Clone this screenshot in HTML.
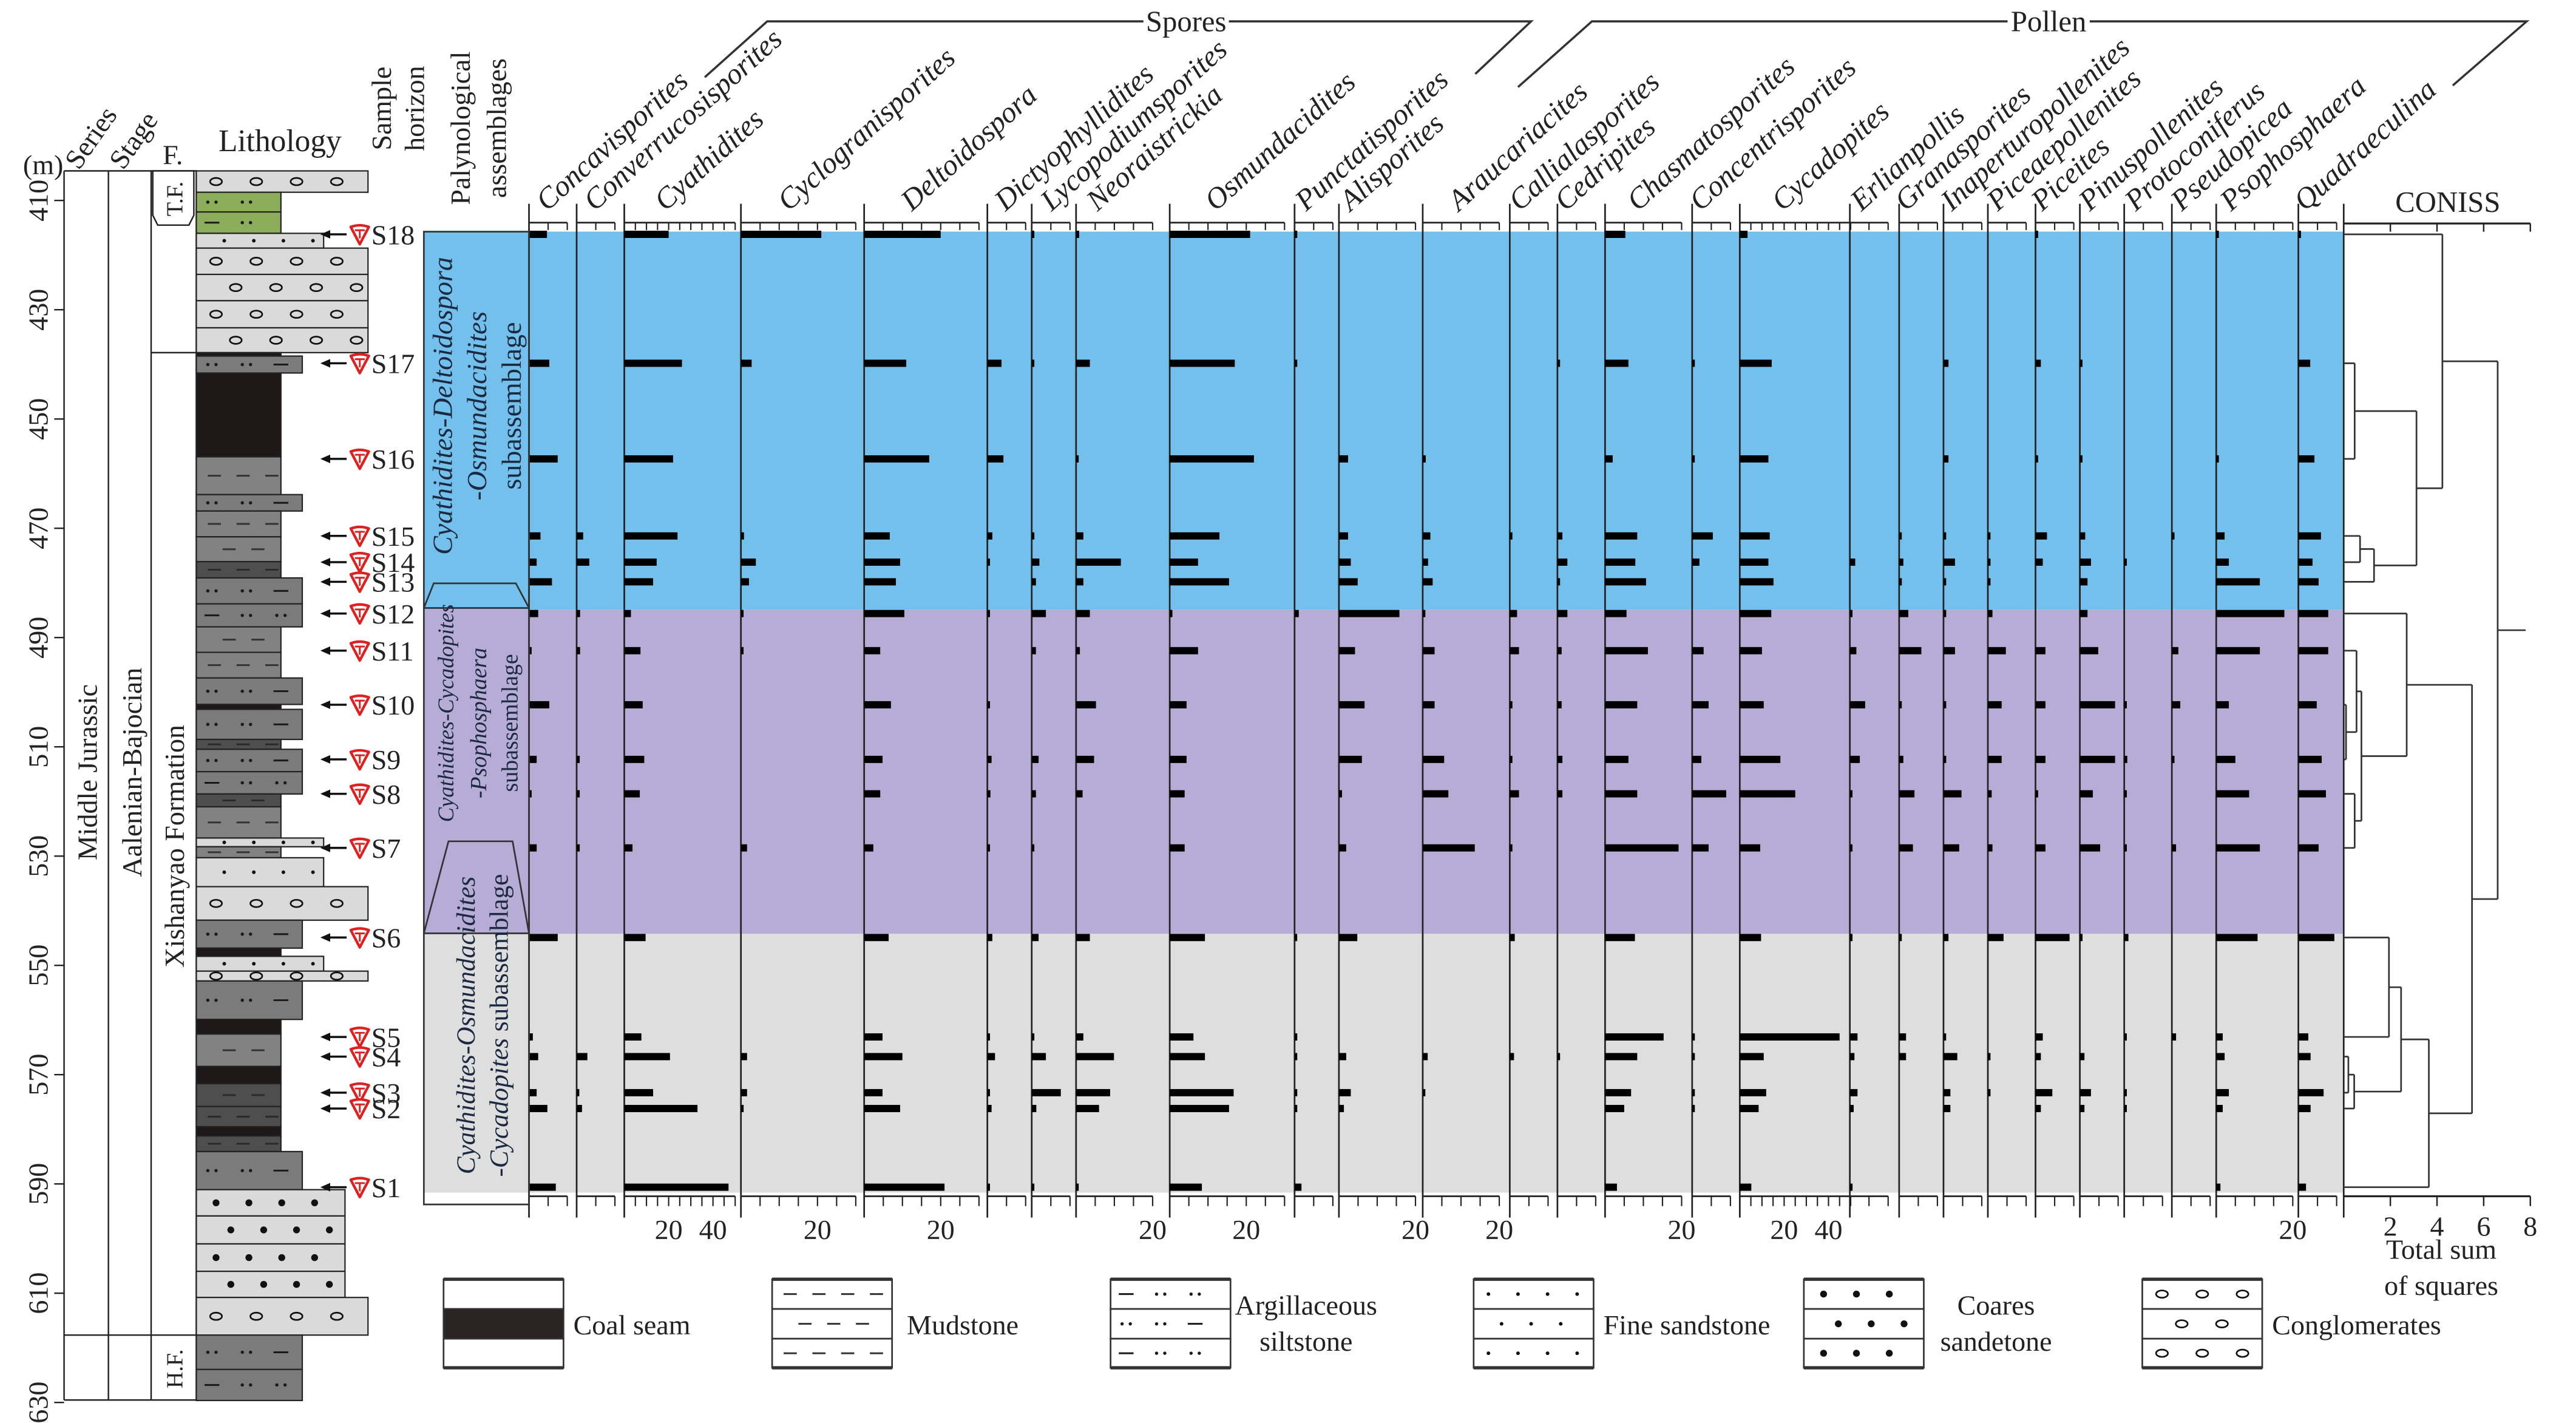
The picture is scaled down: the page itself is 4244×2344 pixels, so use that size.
<!DOCTYPE html>
<html><head><meta charset="utf-8"><title>Palynological diagram</title>
<style>
html,body{margin:0;padding:0;background:#fff;}
svg{display:block;font-family:"Liberation Serif",serif;}
.hd{font-style:italic;font-size:18px;fill:#222;}
.lb{font-size:17px;fill:#222;}
</style></head>
<body>
<svg id="chart" xmlns="http://www.w3.org/2000/svg" width="4244" height="2344" viewBox="0 0 1568 866" preserveAspectRatio="none">
<rect x="0" y="0" width="1568" height="866" fill="#fff"/>
<g id="zones"></g>
<g id="litho"></g>
<g id="cols"></g>
<g id="bars"></g>
<g id="coniss"></g>
<g id="samples"></g>
<g id="legend"></g>

<text x="14" y="106" class="lb">(m)</text>
<text transform="translate(48,104) rotate(-55)" class="lb">Series</text>
<text transform="translate(75,104) rotate(-55)" class="lb">Stage</text>
<text x="99" y="100" class="lb">F.</text>
<text x="133" y="92" class="lb" style="font-size:19px">Lithology</text>
<text transform="translate(238,66) rotate(-90)" class="lb" text-anchor="middle">Sample</text>
<text transform="translate(258,66) rotate(-90)" class="lb" text-anchor="middle">horizon</text>
<text transform="translate(286,78) rotate(-90)" class="lb" text-anchor="middle">Palynological</text>
<text transform="translate(308,78) rotate(-90)" class="lb" text-anchor="middle">assemblages</text>
<text transform="translate(59,470) rotate(-90)" class="lb" text-anchor="middle">Middle Jurassic</text>
<text transform="translate(86,470) rotate(-90)" class="lb" text-anchor="middle">Aalenian-Bajocian</text>
<text transform="translate(112,515) rotate(-90)" class="lb" text-anchor="middle">Xishanyao Formation</text>
<text transform="translate(111,121) rotate(-90)" class="lb" style="font-size:14px" text-anchor="middle">T.F.</text>
<text transform="translate(111,833) rotate(-90)" class="lb" style="font-size:14px" text-anchor="middle">H.F.</text>

<polygon points="258,141 322,141 322,370 258,370" fill="none" stroke="#333" stroke-width="1"/>
<polygon points="258,370 264,355 314,355 322,370 322,568 258,568" fill="none" stroke="#333" stroke-width="1"/>
<polygon points="258,568 273,512 312,512 322,568 322,733 258,733" fill="none" stroke="#333" stroke-width="1"/>
<g fill="#1b2a40">
<text transform="translate(275,247) rotate(-90)" text-anchor="middle" style="font-style:italic;font-size:17px">Cyathidites-Deltoidospora</text>
<text transform="translate(296,247) rotate(-90)" text-anchor="middle" style="font-style:italic;font-size:17px">-Osmundacidites</text>
<text transform="translate(317,247) rotate(-90)" text-anchor="middle" style="font-size:17px">subassemblage</text>
<text transform="translate(276,434) rotate(-90)" text-anchor="middle" style="font-style:italic;font-size:13.5px">Cyathidites-Cycadopites</text>
<text transform="translate(296,440) rotate(-90)" text-anchor="middle" style="font-style:italic;font-size:14px">-Psophosphaera</text>
<text transform="translate(315,440) rotate(-90)" text-anchor="middle" style="font-size:14px">subassemblage</text>
<text transform="translate(289,624) rotate(-90)" text-anchor="middle" style="font-style:italic;font-size:16px">Cyathidites-Osmundacidites</text>
<text transform="translate(309,624) rotate(-90)" text-anchor="middle" style="font-size:16px"><tspan font-style="italic">-Cycadopites</tspan> subassemblage</text>
</g>

<g>
<text class="hd" transform="translate(333,129) rotate(-42)">Concavisporites</text>
<text class="hd" transform="translate(362,129) rotate(-42)">Converrucosisporites</text>
<text class="hd" transform="translate(405,129) rotate(-42)">Cyathidites</text>
<text class="hd" transform="translate(480,129) rotate(-42)">Cyclogranisporites</text>
<text class="hd" transform="translate(555,129) rotate(-42)">Deltoidospora</text>
<text class="hd" transform="translate(612,129) rotate(-42)">Dictyophyllidites</text>
<text class="hd" transform="translate(640,129) rotate(-42)">Lycopodiumsporites</text>
<text class="hd" transform="translate(668,129) rotate(-42)">Neoraistrickia</text>
<text class="hd" transform="translate(740,129) rotate(-42)">Osmundacidites</text>
<text class="hd" transform="translate(795,129) rotate(-42)">Punctatisporites</text>
<text class="hd" transform="translate(822,129) rotate(-42)">Alisporites</text>
<text class="hd" transform="translate(888,129) rotate(-42)">Araucariacites</text>
<text class="hd" transform="translate(925,129) rotate(-42)">Callialasporites</text>
<text class="hd" transform="translate(953,129) rotate(-42)">Cedripites</text>
<text class="hd" transform="translate(997,129) rotate(-42)">Chasmatosporites</text>
<text class="hd" transform="translate(1035,129) rotate(-42)">Concentrisporites</text>
<text class="hd" transform="translate(1085,129) rotate(-42)">Cycadopites</text>
<text class="hd" transform="translate(1133,129) rotate(-42)">Erlianpollis</text>
<text class="hd" transform="translate(1160,129) rotate(-42)">Granasporites</text>
<text class="hd" transform="translate(1188,129) rotate(-42)">Inaperturopollenites</text>
<text class="hd" transform="translate(1216,129) rotate(-42)">Piceaepollenites</text>
<text class="hd" transform="translate(1243,129) rotate(-42)">Piceites</text>
<text class="hd" transform="translate(1272,129) rotate(-42)">Pinuspollenites</text>
<text class="hd" transform="translate(1300,129) rotate(-42)">Protoconiferus</text>
<text class="hd" transform="translate(1328,129) rotate(-42)">Pseudopicea</text>
<text class="hd" transform="translate(1358,129) rotate(-42)">Psophosphaera</text>
<text class="hd" transform="translate(1403,129) rotate(-42)">Quadraeculina</text>
</g>

<polyline points="429,47 467,13 696,13" fill="none" stroke="#333" stroke-width="1.3"/>
<polyline points="748,13 932,13 898,45" fill="none" stroke="#333" stroke-width="1.3"/>
<text x="722" y="19" text-anchor="middle" class="lb" style="font-size:18px">Spores</text>
<polyline points="924,53 969,13 1222,13" fill="none" stroke="#333" stroke-width="1.3"/>
<polyline points="1272,13 1538,13 1493,52" fill="none" stroke="#333" stroke-width="1.3"/>
<text x="1247" y="19" text-anchor="middle" class="lb" style="font-size:18px">Pollen</text>
<text x="1490" y="129" text-anchor="middle" class="lb" style="font-size:18px">CONISS</text>
<text x="1486" y="766" text-anchor="middle" class="lb">Total sum</text>
<text x="1486" y="788" text-anchor="middle" class="lb">of squares</text>

<text x="349" y="812" class="lb">Coal seam</text>
<text x="552" y="812" class="lb">Mudstone</text>
<text x="795" y="800" text-anchor="middle" class="lb">Argillaceous</text>
<text x="795" y="822" text-anchor="middle" class="lb">siltstone</text>
<text x="976" y="812" class="lb">Fine sandstone</text>
<text x="1215" y="800" text-anchor="middle" class="lb">Coares</text>
<text x="1215" y="822" text-anchor="middle" class="lb">sandetone</text>
<text x="1383" y="812" class="lb">Conglomerates</text>
</svg>

<script>
// ---- data ----
const sampleNames = ["S18","S17","S16","S15","S14","S13","S12","S11","S10","S9","S8","S7","S6","S5","S4","S3","S2","S1"];
const sampleDepths = [416.2,439.8,457.3,471.4,476.2,479.8,485.6,492.4,502.3,512.3,518.6,528.5,544.9,563.1,566.7,573.3,576.2,590.6];
const depthTicks = [410,430,450,470,490,510,530,550,570,590,610,630];
const zoneTops = [415.7,484.9,544.2];
const zoneBottoms = [484.9,544.2,591.6];
const axisTickLabels = ["20","40"];
const conissTicks = [2,4,6,8];

const vConcavisporites = [4.7,5.3,7.5,3,2,6,2.4,0.5,5.3,2,0.5,2,7.5,1,2.4,2,4.8,7];
const vConverrucosisporites = [0,0,0,1.7,3.3,0,0.9,0.9,0,0.8,0.8,0.8,0,0,2.8,0.5,1.4,0];
const vCyathidites = [20,26,22,24,14.6,13,3,7.3,8.3,9,7,3.7,9.6,7.7,20.6,13,33,47];
const vCyclogranisporites = [21,2.8,0,0.8,3.9,2.1,0.6,0.6,0,0,0,1.6,0,0,1.6,1.6,0.7,0];
const vDeltoidospora = [20,11,17,6.7,9.4,8.3,10.5,4.2,7,4.8,4.2,2.4,6.4,4.8,10,4.8,9.4,21];
const vDictyophyllidites = [0,3.7,4.2,1.3,0.5,0,0.5,0,0.5,1.1,0.8,0.5,1.3,0.5,2,0.5,1.1,0.5];
const vLycopodiumsporites = [0.4,0.4,0,0.4,2,1.1,3.7,1.1,0,1.8,1.1,0.4,1.8,0.4,3.7,7.6,1.2,0.4];
const vNeoraistrickia = [0.8,3.6,0.6,1.9,11.7,1.9,3.6,1,5.2,4.7,1.7,0,3.6,1.9,9.9,8.9,6,0.3];
const vOsmundacidites = [21,17,22,13,7.4,15.5,0.7,7.4,4.4,4.4,3.9,3.9,9.2,6.2,9.2,16.7,15.5,8.4];
const vPunctatisporites = [0.7,0.7,0,0,0,0,1.1,0,0,0,0,0,0.5,0.7,0.7,0.7,0.7,1.8];
const vAlisporites = [0,0,2.4,2.4,3.1,4.9,15.8,4.2,6.7,6,0.8,1.9,4.8,0,1.9,3.1,1.3,0];
const vAraucariacites = [0,0,0.8,2,1.4,2.6,0.6,3.1,3.1,5.6,6.7,13.6,0,0,1.3,0.6,0,0];
const vCallialasporites = [0,0,0,0.4,0,0,1.9,2.4,0.4,0.4,2.4,0.4,1.3,0,1.1,0,0,0];
const vCedripites = [0,0.4,0,1.3,2.6,0.2,2.6,1.1,1.1,1.3,1.3,0,0,0,0.5,0,0,0];
const vChasmatosporites = [5.3,6.1,2,8.4,7.9,10.7,5.6,11.2,8.4,6.1,8.4,19.2,7.8,15.3,8.4,6.8,5,3.1];
const vConcentrisporites = [0,0.7,0.4,5.4,1.9,0,0,3,4.3,2.4,8.9,4.3,0,0.7,0.7,0.7,0.7,0];
const vCycadopites = [3.5,14.4,12.9,13.5,12.9,15.2,14.2,10,10.8,18.3,25,9.2,9.6,45,10.8,11.9,8.5,5.2];
const vErlianpollis = [0,0,0,0,1.4,0,0.3,1.7,4,2.6,0.6,0.6,0.6,2,1.2,2,1,0.7];
const vGranasporites = [0,0,0,0.5,1.1,0.7,2.4,5.8,0.4,1.1,4,3.6,0.4,1.8,1.8,0,0,0];
const vInaperturopollenites = [0,1.3,1.3,0.7,3,0.7,0.7,3,0.7,0.7,4.7,4.1,1.3,0.5,3.6,1.8,1.8,0];
const vPiceaepollenites = [0,0,0,0.5,0.5,0.5,1.2,4.7,3.6,3.6,1,1.2,4.1,0,0.5,0.5,0,0];
const vPiceites = [0.4,1.4,0.4,3,1.9,0,0,2.6,2.6,2.6,0.4,2.6,8.9,1.9,1.4,4.4,1.4,0];
const vPinuspollenites = [0,0.4,0.4,1.4,2.9,2,2,4.8,9.2,9.2,3.4,5.3,0.7,0,1.2,2.9,1.2,0];
const vProtoconiferus = [0,0,0,0,0.3,0,0,0,0.3,0.8,0.3,0.3,1.1,0.3,0,0.3,0.3,0];
const vPseudopicea = [0,0,0,0.3,0,0,0,1.7,2.2,0.3,0,1.1,0,1.1,0,0,0,0];
const vPsophosphaera = [0.3,0,0.3,2.2,3.3,11.4,17.8,11.4,3.3,5,8.6,11.4,10.8,1.7,2.2,3.3,1.7,1.1];
const vQuadraeculina = [0.3,3.1,4.2,5.9,3.7,5.3,7.8,7.8,4.8,6.1,7.2,5.3,9.4,2.6,3.2,6.6,3.2,2];
const series = [vConcavisporites,vConverrucosisporites,vCyathidites,vCyclogranisporites,vDeltoidospora,vDictyophyllidites,vLycopodiumsporites,vNeoraistrickia,vOsmundacidites,vPunctatisporites,vAlisporites,vAraucariacites,vCallialasporites,vCedripites,vChasmatosporites,vConcentrisporites,vCycadopites,vErlianpollis,vGranasporites,vInaperturopollenites,vPiceaepollenites,vPiceites,vPinuspollenites,vProtoconiferus,vPseudopicea,vPsophosphaera,vQuadraeculina];
const seriesKeys = ["concavisporites","converrucosisporites","cyathidites","cyclogranisporites","deltoidospora","dictyophyllidites","lycopodiumsporites","neoraistrickia","osmundacidites","punctatisporites","alisporites","araucariacites","callialasporites","cedripites","chasmatosporites","concentrisporites","cycadopites","erlianpollis","granasporites","inaperturopollenites","piceaepollenites","piceites","pinuspollenites","protoconiferus","pseudopicea","psophosphaera","quadraeculina"];
const axisMax = [10,10,50,30,30,10,10,20,30,10,20,20,10,10,20,10,50,10,10,10,10,10,10,10,10,20,10];
const compressed = [0,0,1,0,0,0,0,0,0,0,0,0,0,0,0,0,1,0,0,0,0,0,0,0,0,0,0];
const mergeA = [1,3,19,18,0,8,7,10,24,6,12,14,29,28,31,27,22];
const mergeB = [2,4,5,20,21,9,23,11,25,26,13,15,16,30,17,32,33];
const mergeH = [0.47,0.7,1.3,3.12,4.23,0.1,0.55,0.47,0.76,2.7,1.94,0.2,0.45,2.46,3.65,5.5,6.6];
const rootStub = 7.8;

// ---- layout ----
const NS = "http://www.w3.org/2000/svg";
const colX = [322,351,380,451,526,601,628,655,712,788,815,866,919,948,977,1030,1059,1126,1156,1183,1210,1239,1266,1293,1322,1349,1399];
const UNIT = 2.33, CUNIT = 1.35;
const BAR_R = 1426.6;
const CX0 = 1426.6, CPU = 14.2;
function yD(d){ return 122 + (d - 410) * 3.325; }
function ppu(j){ return compressed[j] ? CUNIT : UNIT; }
function xC(h){ return CX0 + h * CPU; }

function add(parent, tag, attrs, name){
  const e = document.createElementNS(NS, tag);
  for (const k in attrs) e.setAttribute(k, attrs[k]);
  
  
  parent.appendChild(e);
  return e;
}
const gZ = document.getElementById('zones');
const gL = document.getElementById('litho');
const gC = document.getElementById('cols');
const gB = document.getElementById('bars');
const gD = document.getElementById('coniss');
const gS = document.getElementById('samples');
const gG = document.getElementById('legend');

const zoneColors = ["#74c0ec","#b6acd5","#dedede"];
const zoneNames = ["zone-blue","zone-purple","zone-gray"];
zoneTops.forEach((t,i)=>{
  add(gZ,'rect',{x:258,y:yD(t),width:BAR_R-258,height:yD(zoneBottoms[i])-yD(t),fill:zoneColors[i]},zoneNames[i]);
});

const frame = [[39,104,39,852],[66,104,66,852],[92,104,92,852],[119.5,104,119.5,852],[39,104,120,104],[39,852,120,852],[92,214.6,120,214.6],[39,812.5,120,812.5]];
frame.forEach(l=>{ add(gL,'line',{x1:l[0],y1:l[1],x2:l[2],y2:l[3],stroke:'#222','stroke-width':0.9},'frame-line'); });
add(gL,'polygon',{points:"93,104 118,104 118,131 115,137 96,137 93,131",fill:'#fff',stroke:'#222','stroke-width':0.9},'tf-box');
depthTicks.forEach(d=>{
  add(gL,'line',{x1:33,y1:yD(d),x2:39,y2:yD(d),stroke:'#222','stroke-width':0.9},'depth-tick');
  const t = add(gL,'text',{transform:'translate(29,'+yD(d)+') rotate(-90)','text-anchor':'middle',class:'lb'},'depth-label');
  t.textContent = String(d);
});

const beds = [[104,117,224,'cg'],[117,129,171,'gr'],[129,142,171,'gr'],[142,151,197,'fs'],[151,167,224,'cg'],[167,183,224,'cg'],[183,199.5,224,'cg'],[199.5,214.6,224,'cg'],[214.6,278,171,'coal'],[216.7,227,184,'as'],[278,301,171,'ms'],[301,311,184,'as'],[311,326.7,171,'ms'],[326.7,341.8,171,'ms'],[341.8,351.7,171,'dm'],[351.7,367.5,184,'as'],[367.5,381.5,184,'as'],[381.5,397,171,'ms'],[397,412.6,171,'ms'],[412.6,428.7,184,'as'],[428.7,431.7,171,'coal'],[431.7,450,184,'as'],[450,456,171,'dm'],[456,469.6,184,'as'],[469.6,483.2,184,'as'],[483.2,491,171,'dm'],[491,510,171,'ms'],[510,515.3,197,'fs'],[515.3,522,171,'ms'],[522,539.6,197,'fs'],[539.6,560,224,'cg'],[560,577,184,'as'],[577,582,171,'coal'],[582,591,197,'fs'],[591,597,224,'cg'],[597,620.4,184,'as'],[620.4,629.3,171,'coal'],[629.3,649,171,'ms'],[649,659.5,171,'coal'],[659.5,673.4,171,'dm'],[673.4,685.7,171,'dm'],[685.7,691.3,171,'coal'],[691.3,700.8,171,'dm'],[700.8,724,184,'as'],[724,740,210,'cs'],[740,757,210,'cs'],[757,773.7,210,'cs'],[773.7,789.6,210,'cs'],[789.6,812.5,224,'cg'],[812.5,833.4,184,'as'],[833.4,852.3,184,'as']];
const fills = {cg:'#dadada',fs:'#dadada',cs:'#dadada',ms:'#828282',as:'#7b7b7b',dm:'#4e4e4e',coal:'#1e1818',gr:'#8cad5c'};
function symbols(g, type, x0, x1, yc, alt){
  const c = '#111';
  if (type==='cg'){
    for(let x=x0+(alt?24:12); x<x1-6; x+=24.5) add(g,'ellipse',{cx:x,cy:yc,rx:3.6,ry:2.2,fill:'none',stroke:c,'stroke-width':1},'conglomerate-symbol');
  } else if (type==='fs'){
    for(let x=x0+(alt?17:9); x<x1-5; x+=18) add(g,'circle',{cx:x,cy:yc,r:1.1,fill:c},'fine-sand-dot');
  } else if (type==='cs'){
    for(let x=x0+(alt?21:12); x<x1-6; x+=20) add(g,'circle',{cx:x,cy:yc,r:2.1,fill:c},'coarse-sand-dot');
  } else if (type==='ms'||type==='dm'){
    const cc = type==='dm' ? '#2a2a2a' : '#333';
    for(let x=x0+(alt?16:7); x<x1-8; x+=17.5) add(g,'line',{x1:x,y1:yc,x2:x+8,y2:yc,stroke:cc,'stroke-width':1.1},'mudstone-dash');
  } else if (type==='as'||type==='gr'){
    const cc = '#1a1a1a';
    let k = alt?1:0;
    for(let x=x0+5; x<x1-8; x+=21, k++){
      if (k%3===0) add(g,'line',{x1:x,y1:yc,x2:x+9,y2:yc,stroke:cc,'stroke-width':1.1},'siltstone-dash');
      else { add(g,'circle',{cx:x+2,cy:yc,r:1,fill:cc},'siltstone-dot'); add(g,'circle',{cx:x+7,cy:yc,r:1,fill:cc},'siltstone-dot'); }
    }
  }
}
beds.forEach((b,i)=>{
  add(gL,'rect',{x:119.5,y:b[0],width:b[2]-119.5,height:b[1]-b[0],fill:fills[b[3]],stroke:'#222','stroke-width':0.8},'bed-'+b[3]);
  if (b[1]-b[0] > 4) symbols(gL,b[3],119.5,b[2],(b[0]+b[1])/2,i%2===1);
});

seriesKeys.forEach((k,j)=>{
  const x0 = colX[j], x1 = colX[j] + axisMax[j]*ppu(j);
  add(gC,'line',{x1:x0,y1:124,x2:x0,y2:741,stroke:'#222','stroke-width':1},'column-line-'+k);
  add(gC,'line',{x1:x0,y1:135.5,x2:x1,y2:135.5,stroke:'#222','stroke-width':1},'top-axis-'+k);
  add(gC,'line',{x1:x0,y1:728,x2:x1,y2:728,stroke:'#222','stroke-width':1},'bottom-axis-'+k);
  for(let v=5; v<=axisMax[j]+0.01; v+=5){
    const x = x0 + v*ppu(j);
    add(gC,'line',{x1:x,y1:135.5,x2:x,y2:140,stroke:'#222','stroke-width':0.8},'top-tick-'+k);
    add(gC,'line',{x1:x,y1:728,x2:x,y2:734,stroke:'#222','stroke-width':0.8},'bottom-tick-'+k);
  }
  axisTickLabels.forEach(lbl=>{
    const v = Number(lbl);
    if (v > axisMax[j]) return;
    if (!compressed[j] && v===40) return;
    const t = add(gC,'text',{x:x0+v*ppu(j),y:754,'text-anchor':'middle',class:'lb'},'tick-label-'+k);
    t.textContent = lbl;
  });
});
add(gC,'line',{x1:BAR_R,y1:124,x2:BAR_R,y2:741,stroke:'#222','stroke-width':1},'coniss-left-line');

series.forEach((vals,j)=>{
  vals.forEach((v,i)=>{
    if (!(v>0)) return;
    const w = Math.max(v*ppu(j),1.6);
    add(gB,'rect',{x:colX[j],y:yD(sampleDepths[i])-2.2,width:w,height:4.4,fill:'#000'},'bar-'+seriesKeys[j]+'-'+sampleNames[i].toLowerCase());
  });
});

add(gD,'line',{x1:CX0,y1:136,x2:xC(8),y2:136,stroke:'#222','stroke-width':1.2},'coniss-top-axis');
add(gD,'line',{x1:CX0,y1:728,x2:xC(8),y2:728,stroke:'#222','stroke-width':1.2},'coniss-bottom-axis');
[0].concat(conissTicks).forEach(v=>{
  add(gD,'line',{x1:xC(v),y1:136,x2:xC(v),y2:141,stroke:'#222','stroke-width':0.9},'coniss-top-tick');
  add(gD,'line',{x1:xC(v),y1:728,x2:xC(v),y2:734,stroke:'#222','stroke-width':0.9},'coniss-bottom-tick');
});
conissTicks.forEach(v=>{
  const t = add(gD,'text',{x:xC(v),y:752,'text-anchor':'middle',class:'lb'},'coniss-tick-label');
  t.textContent = String(v);
});
const nodeY = sampleDepths.map(d=>yD(d));
const nodeH = sampleDepths.map(()=>0);
mergeA.forEach((a,m)=>{
  const b = mergeB[m], h = mergeH[m];
  const ya = nodeY[a], yb = nodeY[b];
  add(gD,'line',{x1:xC(nodeH[a]),y1:ya,x2:xC(h),y2:ya,stroke:'#333','stroke-width':1},'dendro-branch');
  add(gD,'line',{x1:xC(nodeH[b]),y1:yb,x2:xC(h),y2:yb,stroke:'#333','stroke-width':1},'dendro-branch');
  add(gD,'line',{x1:xC(h),y1:ya,x2:xC(h),y2:yb,stroke:'#333','stroke-width':1},'dendro-join');
  nodeY.push((ya+yb)/2);
  nodeH.push(h);
});
const rootI = nodeY.length-1;
add(gD,'line',{x1:xC(nodeH[rootI]),y1:nodeY[rootI],x2:xC(rootStub),y2:nodeY[rootI],stroke:'#333','stroke-width':1},'dendro-root');

sampleNames.forEach((s,i)=>{
  const y = yD(sampleDepths[i]);
  add(gS,'line',{x1:211,y1:y,x2:199,y2:y,stroke:'#111','stroke-width':1.3},'sample-arrow-shaft');
  add(gS,'polygon',{points:'195,'+y+' 201,'+(y-2.6)+' 201,'+(y+2.6),fill:'#111'},'sample-arrow-head');
  add(gS,'path',{d:'M213.5,'+(y-4.5)+' Q219,'+(y-6.5)+' 224.5,'+(y-4.5)+' L219,'+(y+6)+' Z',fill:'#fff',stroke:'#e02020','stroke-width':1.6,'stroke-linejoin':'round'},'sample-marker');
  add(gS,'path',{d:'M216,'+(y-2.5)+' L222,'+(y-2.5)+' M219,'+(y-2.5)+' L219,'+(y+2.5),stroke:'#e02020','stroke-width':1.1,fill:'none'},'sample-marker-inner');
  const t = add(gS,'text',{x:226,y:y+6,class:'lb'},'sample-label-'+s.toLowerCase());
  t.textContent = s;
});

const legendX = [270,470,676,897,1098,1304];
const legendTypes = ['coal','ms','as','fs','cs','cg'];
const rowsY = [778.5,796.6,814.7,832.4];
legendX.forEach((x,i)=>{
  const ty = legendTypes[i];
  for(let r=0;r<3;r++){
    const f = (ty==='coal' && r===1) ? '#2a2424' : '#fff';
    add(gG,'rect',{x:x,y:rowsY[r],width:73,height:rowsY[r+1]-rowsY[r],fill:f,stroke:'#333','stroke-width':1},'legend-swatch-'+ty);
    if (ty!=='coal') symbols(gG,ty,x,x+73,(rowsY[r]+rowsY[r+1])/2,r===1);
  }
  add(gG,'line',{x1:x,y1:rowsY[0],x2:x+73,y2:rowsY[0],stroke:'#333','stroke-width':2},'legend-swatch-top');
  add(gG,'line',{x1:x,y1:rowsY[3],x2:x+73,y2:rowsY[3],stroke:'#333','stroke-width':2},'legend-swatch-bottom');
});
</script>
</body></html>
